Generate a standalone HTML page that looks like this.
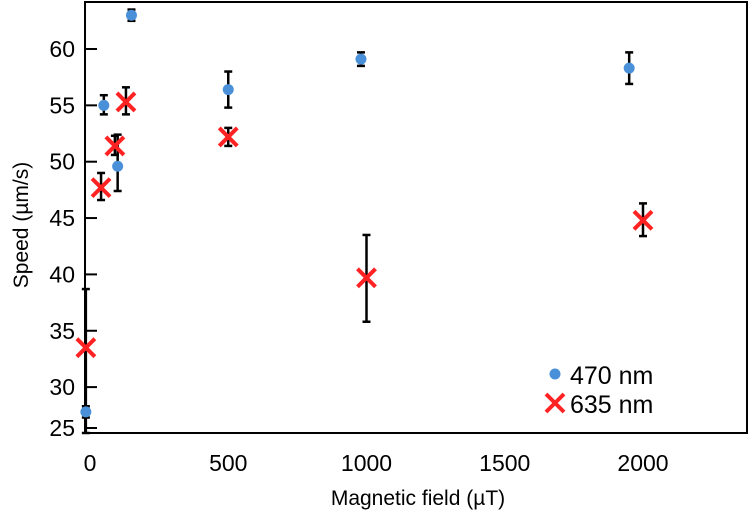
<!DOCTYPE html>
<html><head><meta charset="utf-8"><style>
body{margin:0;background:#fff;}
svg{display:block;font-family:"Liberation Sans",sans-serif;}
</style></head><body>
<svg id="c" width="750" height="517"></svg>
<script>
const xTicks=[0,500,1000,1500,2000];
const yTicks=[25,30,35,40,45,50,55,60];
const blueX=[-15,50,100,150,500,980,1950];
const blueY=[27.8,55,49.6,63,56.4,59.1,58.3];
const blueLo=[27.3,54.2,47.4,62.5,54.8,58.5,56.9];
const blueHi=[28.3,55.9,52.4,63.5,58,59.7,59.7];
const redX=[-15,40,90,130,500,1000,2000];
const redY=[33.5,47.7,51.4,55.3,52.2,39.7,44.8];
const redLo=[25,46.6,50.6,54.2,51.4,35.8,43.4];
const redHi=[38.7,49,52.3,56.6,53,43.5,46.3];
const NS="http://www.w3.org/2000/svg";
const svg=document.getElementById('c');
const X=v=>90+v*0.2765;
const Y=v=>49+(60-v)*11.27;
function mk(t,a,p){const e=document.createElementNS(NS,t);for(const k in a)e.setAttribute(k,a[k]);(p||svg).appendChild(e);return e;}
const frame=mk('rect',{x:85,y:2,width:662,height:431,fill:'none',stroke:'#000','stroke-width':2});


xTicks.forEach(v=>{
  const t=mk('text',{x:X(v),y:471,'text-anchor':'middle','font-size':23});t.textContent=v;
  
  
});
yTicks.forEach(v=>{
  const yy=Math.min(Y(v),428);
  const l=mk('line',{x1:85,x2:97,y1:yy,y2:yy,stroke:'#000','stroke-width':2});
  
  
  const t=mk('text',{x:75,y:yy+8,'text-anchor':'end','font-size':23});t.textContent=v;
  
  
});
function err(x,lo,hi){
  const g=mk('g',{stroke:'#000','stroke-width':2.5});
  
  
  const cx=X(x),a=Y(lo),b=Y(hi);
  mk('line',{x1:cx,x2:cx,y1:Math.min(a,433),y2:b},g);
  mk('line',{x1:cx-4,x2:cx+4,y1:Math.min(a,433),y2:Math.min(a,433)},g);
  mk('line',{x1:cx-4,x2:cx+4,y1:b,y2:b},g);
}
function cross(cx,cy,g){
  mk('line',{x1:cx-9,y1:cy-9,x2:cx+9,y2:cy+9,stroke:'#f22','stroke-width':4},g);
  mk('line',{x1:cx-9,y1:cy+9,x2:cx+9,y2:cy-9,stroke:'#f22','stroke-width':4},g);
}
blueX.forEach((x,i)=>{err(x,blueLo[i],blueHi[i]);});
redX.forEach((x,i)=>{err(x,redLo[i],redHi[i]);});
blueX.forEach((x,i)=>{
  const c=mk('circle',{cx:X(x),cy:Y(blueY[i]),r:5.5,fill:'#4a90d9'});
  
  
});
redX.forEach((x,i)=>{
  const g=mk('g',{});
  
  
  cross(X(x),Y(redY[i]),g);
});
</script>
<svg style="position:absolute;left:0;top:0" width="750" height="517">
<g>
<circle cx="555" cy="374" r="5.5" fill="#4a90d9"/>
<text x="570" y="384" font-size="25" font-family="Liberation Sans,sans-serif">470 nm</text>
<g><line x1="546" y1="394" x2="564" y2="412" stroke="#f22" stroke-width="4"/><line x1="546" y1="412" x2="564" y2="394" stroke="#f22" stroke-width="4"/></g>
<text x="570" y="413" font-size="25" font-family="Liberation Sans,sans-serif">635 nm</text>
</g>
<text x="418" y="505" text-anchor="middle" font-size="21" font-family="Liberation Sans,sans-serif">Magnetic field (µT)</text>
<text transform="translate(28,225) rotate(-90)" text-anchor="middle" font-size="21" font-family="Liberation Sans,sans-serif">Speed (µm/s)</text>
</svg>
</body></html>
